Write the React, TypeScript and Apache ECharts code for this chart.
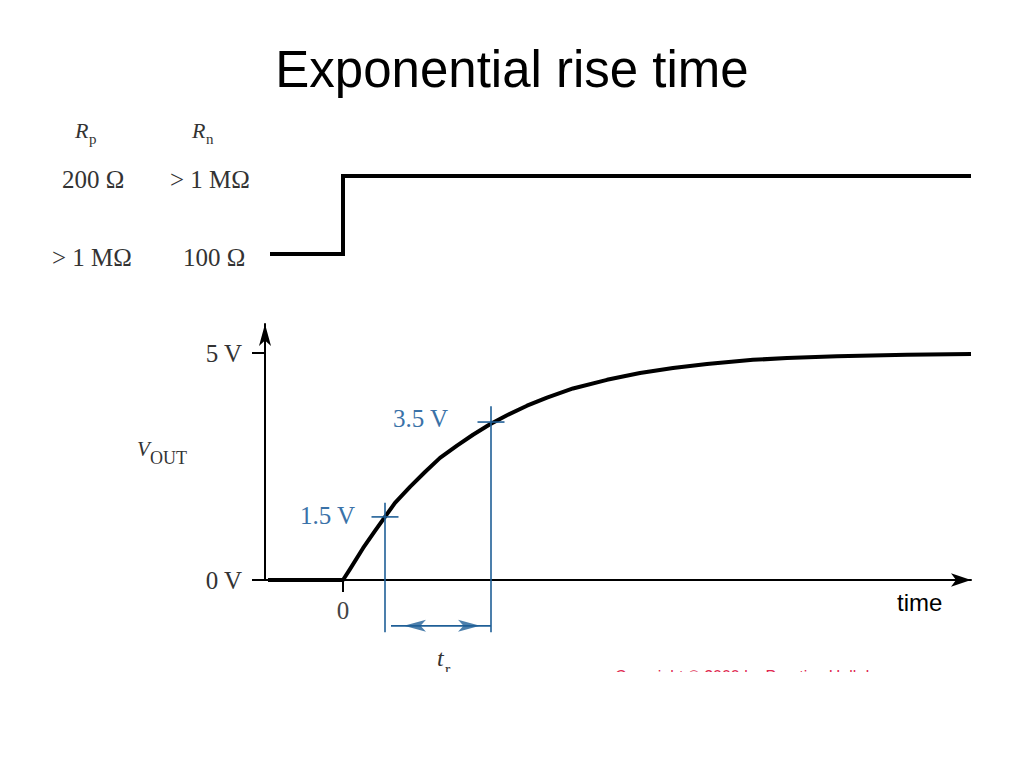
import React, { useEffect, useRef } from "react";
import * as echarts from "echarts";

// ---- data ----
const curveTime = [-0.75, 0, 0.07, 0.2, 0.32, 0.42, 0.52, 0.67, 0.82, 0.97, 1.14, 1.3, 1.47, 1.64, 1.84, 2.04, 2.3, 2.64, 2.97, 3.3, 3.64, 4.1, 4.44, 4.94, 5.64, 6.28];
const curveVolts = [0, 0, 0.24, 0.7, 1.08, 1.39, 1.7, 2.05, 2.38, 2.69, 2.96, 3.2, 3.43, 3.63, 3.84, 4.02, 4.22, 4.41, 4.56, 4.67, 4.76, 4.85, 4.89, 4.93, 4.96, 4.98];

const stepTime = [-0.73, 0, 0, 6.28];
const stepLevel = [0, 0, 1, 1];

const yTickValues = [0, 5];
const xTickValues = [0];

const thresholdLabels = ["1.5 V", "3.5 V"];
const thresholdLevels = [1.39, 3.48];
const crossTimes = [0.42, 1.48];
const guideTops = [1.7, 3.83];
const guideBottom = -1.15;
const tickHalf = 0.135;
const dimLevel = -1.01;
const dimStart = 0.48;
const dimEnd = 1.48;
const dimArrowTimes = [0.61, 1.37];

const resistRows = [
  ["200 Ω", "> 1 MΩ"],
  ["> 1 MΩ", "100 Ω"],
];

const BLUE_LINE = "#1f5f97";
const BLUE_TEXT = "#3a72a8";
const SERIF = "Liberation Serif";
const SANS = "Liberation Sans";

export default function App() {
  const ref = useRef<HTMLDivElement>(null);

  useEffect(() => {
    if (!ref.current) return;
    const chart = echarts.init(ref.current, null, { renderer: "svg" });

    const blueSeg = (pts: number[][]) => ({
      type: "line",
      xAxisIndex: 1,
      yAxisIndex: 1,
      data: pts,
      showSymbol: false,
      symbol: "none",
      clip: false,
      silent: true,
      z: 4,
      lineStyle: { color: BLUE_LINE, width: 1.6 },
    });

    const annot: any[] = [];
    crossTimes.forEach((t, i) => {
      annot.push(blueSeg([[t, guideTops[i]], [t, guideBottom]]));
      annot.push(blueSeg([[t - tickHalf, thresholdLevels[i]], [t + tickHalf, thresholdLevels[i]]]));
    });
    annot.push(blueSeg([[dimStart, dimLevel], [dimEnd, dimLevel]]));
    annot.push({
      type: "scatter",
      xAxisIndex: 1,
      yAxisIndex: 1,
      clip: false,
      silent: true,
      z: 5,
      symbol: "arrow",
      symbolSize: [9, 22],
      itemStyle: { color: BLUE_LINE },
      data: [
        { value: [dimArrowTimes[0], dimLevel], symbolRotate: 90 },
        { value: [dimArrowTimes[1], dimLevel], symbolRotate: -90 },
      ],
    });

    const serifText = (text: string, x: number, y: number, size: number, extra: any = {}) => ({
      type: "text",
      x,
      y,
      z: 10,
      style: {
        text,
        fontFamily: SERIF,
        fontSize: size,
        fill: "#333",
        align: "left",
        verticalAlign: "middle",
        ...extra,
      },
    });

    const graphics: any[] = [
      {
        type: "text",
        x: 512,
        y: 69,
        z: 10,
        style: {
          text: "Exponential rise time",
          fontFamily: SANS,
          fontSize: 51,
          fill: "#000",
          align: "center",
          verticalAlign: "middle",
        },
      },
      serifText("R", 75, 130, 22, { fontStyle: "italic" }),
      serifText("p", 89, 139, 15),
      serifText("R", 192, 130, 22, { fontStyle: "italic" }),
      serifText("n", 206, 139, 15),
      serifText(resistRows[0][0], 62, 179, 25),
      serifText(resistRows[0][1], 170, 179, 25),
      serifText(resistRows[1][0], 52, 257, 25),
      serifText(resistRows[1][1], 183, 257, 25),
      serifText("V", 137, 449, 21, { fontStyle: "italic" }),
      serifText("OUT", 150, 458, 18),
      serifText(thresholdLabels[1], 393, 418, 25, { fill: BLUE_TEXT }),
      serifText(thresholdLabels[0], 300, 515, 25, { fill: BLUE_TEXT }),
      serifText("t", 437, 658, 24, { fontStyle: "italic" }),
      serifText("r", 445, 669, 16),
      {
        type: "text",
        x: 897,
        y: 602,
        z: 10,
        style: {
          text: "time",
          fontFamily: SANS,
          fontSize: 24,
          fill: "#000",
          align: "left",
          verticalAlign: "middle",
        },
      },
      {
        type: "text",
        x: 615,
        y: 668,
        z: 10,
        style: {
          text: "Copyright © 2000 by Prentice Hall, Inc.",
          fontFamily: SANS,
          fontSize: 16,
          fill: "#e0284f",
          align: "left",
          verticalAlign: "top",
        },
      },
      {
        type: "rect",
        z: 100,
        shape: { x: 0, y: 672, width: 1024, height: 96 },
        style: { fill: "#fff" },
      },
    ];

    chart.setOption({
      animation: false,
      backgroundColor: "#fff",
      grid: [
        { left: 265, right: 53, top: 176, bottom: 514 },
        { left: 265, right: 53, top: 324, bottom: 188 },
      ],
      xAxis: [
        { type: "value", gridIndex: 0, min: -0.78, max: 6.28, show: false },
        {
          type: "value",
          gridIndex: 1,
          min: -0.78,
          max: 6.28,
          splitLine: { show: false },
          axisLine: {
            show: true,
            onZero: false,
            symbol: ["none", "arrow"],
            symbolSize: [10, 20],
            lineStyle: { color: "#000", width: 2 },
          },
          axisTick: {
            show: true,
            customValues: xTickValues,
            length: 12,
            lineStyle: { color: "#000", width: 2 },
          },
          axisLabel: {
            show: true,
            customValues: xTickValues,
            formatter: () => "0",
            margin: 18,
            fontFamily: SERIF,
            fontSize: 25,
            color: "#444",
          },
        },
      ],
      yAxis: [
        { type: "value", gridIndex: 0, min: 0, max: 1, show: false },
        {
          type: "value",
          gridIndex: 1,
          min: 0,
          max: 5.64,
          splitLine: { show: false },
          axisLine: {
            show: true,
            onZero: false,
            symbol: ["none", "arrow"],
            symbolSize: [9, 22],
            lineStyle: { color: "#000", width: 2 },
          },
          axisTick: {
            show: true,
            customValues: yTickValues,
            length: 13,
            lineStyle: { color: "#000", width: 2 },
          },
          axisLabel: {
            show: true,
            customValues: yTickValues,
            formatter: (v: number) => `${v} V`,
            margin: 23,
            fontFamily: SERIF,
            fontSize: 25,
            color: "#333",
          },
        },
      ],
      series: [
        {
          type: "line",
          xAxisIndex: 0,
          yAxisIndex: 0,
          data: stepTime.map((t, i) => [t, stepLevel[i]]),
          showSymbol: false,
          symbol: "none",
          silent: true,
          lineStyle: { color: "#000", width: 4, join: "miter" },
        },
        {
          type: "line",
          xAxisIndex: 1,
          yAxisIndex: 1,
          data: curveTime.map((t, i) => [t, curveVolts[i]]),
          showSymbol: false,
          symbol: "none",
          smooth: false,
          silent: true,
          z: 3,
          lineStyle: { color: "#000", width: 4, join: "round" },
        },
        ...annot,
      ],
      graphic: graphics,
    });

    return () => chart.dispose();
  }, []);

  return (
    <div
      ref={ref}
      style={{ position: "absolute", left: 0, top: 0, width: 1024, height: 768 }}
    />
  );
}
